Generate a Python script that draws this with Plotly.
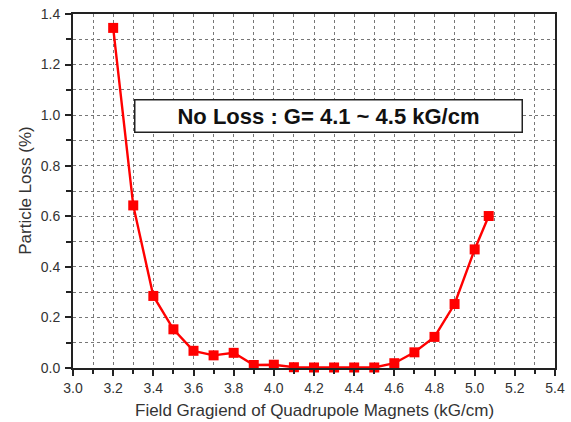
import plotly.graph_objects as go

field = [3.2, 3.3, 3.4, 3.5, 3.6, 3.7, 3.8, 3.9, 4.0, 4.1, 4.2, 4.3, 4.4, 4.5, 4.6, 4.7, 4.8, 4.9, 5.0, 5.07]
loss = [1.345, 0.643, 0.285, 0.153, 0.068, 0.05, 0.06, 0.012, 0.013, 0.003, 0.002, 0.002, 0.002, 0.002, 0.019, 0.062, 0.123, 0.253, 0.469, 0.601]

fig = go.Figure()
fig.add_trace(go.Scatter(
    x=field, y=loss, mode="lines+markers",
    line=dict(color="#ff0000", width=2.4),
    marker=dict(symbol="square", size=10, color="#ff0000"),
    cliponaxis=False, showlegend=False,
))

font = "Liberation Sans, Arial, sans-serif"
gridstyle = dict(showgrid=True, gridcolor="#777777", gridwidth=1, griddash="dot")

fig.update_layout(
    width=571, height=422,
    margin=dict(l=73, r=16, t=14, b=54),
    paper_bgcolor="white", plot_bgcolor="white",
    font=dict(family=font, color="#333333", size=14),
    xaxis=dict(
        range=[3.0, 5.4], dtick=0.2, tick0=3.0, tickformat=".1f",
        ticks="outside", ticklen=6, tickwidth=1.5, tickcolor="#222",
        showline=True, linecolor="#222", linewidth=2, mirror=True,
        zeroline=False, automargin=False, ticklabeloverflow="allow",
        minor=dict(dtick=0.1, ticks="outside", ticklen=4, tickcolor="#222", **gridstyle),
        **gridstyle,
    ),
    yaxis=dict(
        range=[0.0, 1.4], dtick=0.2, tick0=0.0, tickformat=".1f",
        ticks="outside", ticklen=6, tickwidth=1.5, tickcolor="#222",
        showline=True, linecolor="#222", linewidth=2, mirror=True,
        zeroline=False, automargin=False, ticklabeloverflow="allow",
        ticklabelstandoff=2,
        minor=dict(dtick=0.1, ticks="outside", ticklen=5, tickcolor="#222", **gridstyle),
        **gridstyle,
    ),
)

# axis titles
fig.add_annotation(
    x=0.5, y=-0.12, xref="paper", yref="paper", yanchor="middle", xanchor="center",
    text="Field Gragiend of Quadrupole Magnets (kG/cm)", showarrow=False,
    font=dict(family=font, size=17, color="#333"),
)
fig.add_annotation(
    x=-0.1, y=0.5, xref="paper", yref="paper", xanchor="center", yanchor="middle",
    text="Particle Loss (%)", showarrow=False, textangle=-90,
    font=dict(family=font, size=17, color="#333"),
)

fig.add_annotation(
    x=4.27, y=0.998, xref="x", yref="y",
    text="<b>No Loss : G= 4.1 ~ 4.5 kG/cm</b>",
    showarrow=False, font=dict(family=font, size=22, color="#111"),
    bgcolor="white", bordercolor="#222", borderwidth=1.5,
    width=384, height=29, align="center",
)

# remove the page's default body margin so the figure fills the window exactly
fig.write_html(
    "out.html",
    config={"displayModeBar": False},
    post_script="document.body.style.margin='0';",
)
